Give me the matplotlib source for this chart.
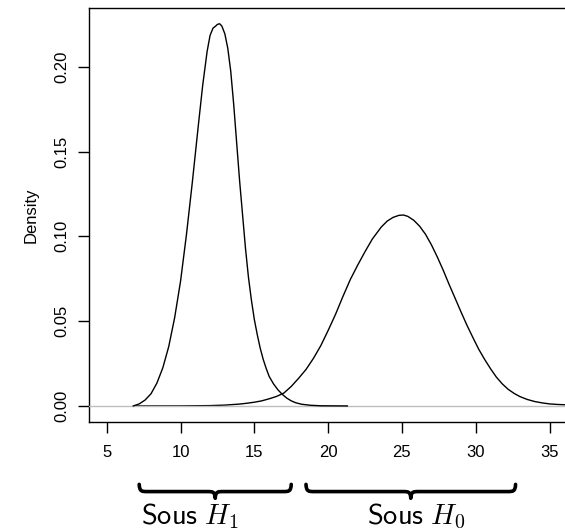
import matplotlib.pyplot as plt
import numpy as np
from matplotlib.path import Path
from matplotlib.patches import PathPatch
from matplotlib.transforms import blended_transform_factory

plt.rcParams['font.family'] = ['Liberation Sans', 'DejaVu Sans']
plt.rcParams['mathtext.fontset'] = 'cm'

# densité sous H1 (pic étroit autour de 12.6)
h1_x = [6.80, 7.20, 7.60, 8.00, 8.40, 8.80, 9.20, 9.60, 10.00, 10.40, 10.80,
        11.20, 11.50, 11.80, 12.00, 12.20, 12.35, 12.50, 12.65, 12.80, 13.00,
        13.20, 13.40, 13.60, 13.80, 14.00, 14.20, 14.40, 14.60, 14.80, 15.00,
        15.20, 15.40, 15.60, 15.80, 16.00, 16.30, 16.60, 16.90, 17.20, 17.50,
        17.80, 18.20, 18.80, 19.50, 21.30]
h1_y = [0.0000, 0.0012, 0.0035, 0.0072, 0.0135, 0.0225, 0.0350, 0.0520, 0.0735,
        0.1010, 0.1320, 0.1650, 0.1890, 0.2090, 0.2185, 0.2228, 0.2238, 0.2250,
        0.2254, 0.2240, 0.2195, 0.2110, 0.1975, 0.1780, 0.1555, 0.1330, 0.1130,
        0.0930, 0.0760, 0.0625, 0.0510, 0.0420, 0.0340, 0.0275, 0.0222, 0.0175,
        0.0130, 0.0095, 0.0068, 0.0046, 0.0030, 0.0019, 0.0010, 0.0004, 0.0001,
        0.0000]

# densité sous H0 (pic large autour de 25)
h0_x = [7.0, 10.0, 12.0, 13.0, 14.0, 14.5, 15.0, 15.5, 16.0, 16.5, 17.0, 17.5,
        18.0, 18.5, 19.0, 19.5, 20.0, 20.5, 21.0, 21.5, 22.0, 22.5, 23.0, 23.3,
        23.6, 24.0, 24.4, 24.8, 25.1, 25.4, 25.8, 26.2, 26.6, 27.0, 27.4, 27.8,
        28.2, 28.6, 29.0, 29.4, 29.8, 30.2, 30.6, 31.0, 31.4, 31.8, 32.2, 32.6,
        33.0, 33.5, 34.0, 34.5, 35.0, 35.5, 36.0, 37.0]
h0_y = [0.0000, 0.00002, 0.0002, 0.0005, 0.0011, 0.0016, 0.0022, 0.0030, 0.0042,
        0.0056, 0.0076, 0.0115, 0.0163, 0.0215, 0.0280, 0.0355, 0.0445, 0.0540,
        0.0645, 0.0745, 0.0830, 0.0910, 0.0985, 0.1020, 0.1055, 0.1090, 0.1112,
        0.1124, 0.1126, 0.1118, 0.1095, 0.1060, 0.1012, 0.0950, 0.0878, 0.0800,
        0.0716, 0.0636, 0.0555, 0.0477, 0.0405, 0.0335, 0.0275, 0.0220, 0.0170,
        0.0130, 0.0098, 0.0074, 0.0055, 0.0038, 0.0026, 0.0018, 0.0012, 0.0009,
        0.0007, 0.0004]

x_ticks = [5, 10, 15, 20, 25, 30, 35]
y_ticks = [0.00, 0.05, 0.10, 0.15, 0.20]
y_tick_labels = ["0.00", "0.05", "0.10", "0.15", "0.20"]

# accolades sous l'axe : (début, fin, position du texte, texte)
accolades = [
    (7.2, 17.5, 10.65, r"$\mathsf{Sous}\ H_1$"),
    (18.5, 32.7, 25.95, r"$\mathsf{Sous}\ H_0$"),
]

fig = plt.figure(figsize=(5.65, 5.32), dpi=100)
ax = fig.add_axes([0.1581, 0.2073, 0.8798, 0.7771])

ax.plot(h0_x, h0_y, color='black', lw=1.0, zorder=2)
ax.axhline(0, color='#bebebe', lw=1.0, zorder=3)
ax.plot(h1_x, h1_y, color='black', lw=1.0, zorder=4)

ax.set_xlim(3.82, 37.5)
ax.set_ylim(-0.0093, 0.2345)
ax.set_xticks(x_ticks)
ax.set_yticks(y_ticks)
ax.set_yticklabels(y_tick_labels)
ax.tick_params(axis='both', direction='out', length=7.9, width=1.0,
               labelsize=12, color='black')
ax.tick_params(axis='x', pad=8.6)
ax.tick_params(axis='y', pad=6.8, labelrotation=90)
for lab in ax.get_yticklabels():
    lab.set_va('center')
for sp in ax.spines.values():
    sp.set_linewidth(1.0)

ax.set_ylabel("Density", fontsize=12)
ax.yaxis.set_label_coords(-0.103, 0.5)

# accolades dessinées en coordonnées (x données, y figure)
trans = blended_transform_factory(ax.transData, fig.transFigure)
y_haut, y_barre, y_pointe = 0.0895, 0.0760, 0.0634
c = 0.55
for x0, x1, xt, texte in accolades:
    xm = (x0 + x1) / 2
    verts = [
        (x0, y_haut),
        (x0 + 0.05 * c, y_barre), (x0 + 0.3 * c, y_barre), (x0 + c, y_barre),
        (xm - c, y_barre),
        (xm - 0.3 * c, y_barre), (xm - 0.05 * c, y_barre), (xm, y_pointe),
        (xm + 0.05 * c, y_barre), (xm + 0.3 * c, y_barre), (xm + c, y_barre),
        (x1 - c, y_barre),
        (x1 - 0.3 * c, y_barre), (x1 - 0.05 * c, y_barre), (x1, y_haut),
    ]
    codes = [Path.MOVETO,
             Path.CURVE4, Path.CURVE4, Path.CURVE4,
             Path.LINETO,
             Path.CURVE4, Path.CURVE4, Path.CURVE4,
             Path.CURVE4, Path.CURVE4, Path.CURVE4,
             Path.LINETO,
             Path.CURVE4, Path.CURVE4, Path.CURVE4]
    patch = PathPatch(Path(verts, codes), transform=trans, facecolor='none',
                      edgecolor='black', lw=2.6, capstyle='round',
                      joinstyle='round', clip_on=False)
    fig.add_artist(patch)
    fig.text(xt, 0.014, texte, transform=trans, fontsize=20.5, ha='center',
             va='baseline')

fig.savefig('out.png', dpi=100)
